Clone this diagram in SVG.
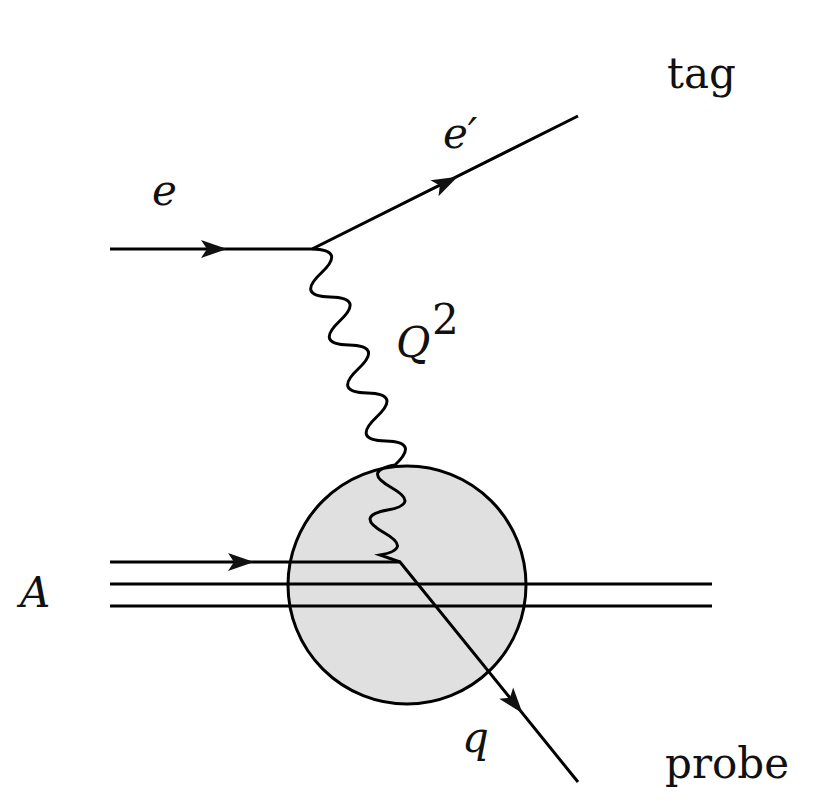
<svg xmlns="http://www.w3.org/2000/svg" width="822" height="804" viewBox="0 0 822 804">
<style>
.l{stroke:#000;stroke-width:3;fill:none}
.t{font-family:'DejaVu Serif','Liberation Serif',serif;font-size:42px;fill:#111}
.i{font-style:italic}
</style>
<defs><path id="ah" d="M12,0 L-14,-9 L-8,0 L-14,9 Z" fill="#111"/></defs>
<rect width="822" height="804" fill="#fff"/>
<g id="blob"><circle cx="407" cy="585" r="119" fill="#e0e0e0" stroke="#000" stroke-width="3"/></g>
<g id="connectors">
<path class="l" d="M110,249 H312 L578,116"/>
<path class="l" d="M312,249 Q346,249.7 321.2,273 Q296.3,296.3 330.4,297 Q364.5,297.7 339.7,321 Q315,344.3 348.9,345 Q383,345.7 358.1,369 Q333.3,392.3 367.3,393 Q401.3,393.7 376.6,417 Q351.8,440.3 385.8,441 Q419.8,441.7 395,465 Q362,471 391.25,487.5 Q420.5,504 387.5,510 Q354.5,516 383.75,532.5 Q413,549 380,555 L400,562"/>
<path class="l" d="M110,562 H400 L578,782"/>
<path class="l" d="M110,584 H712 M110,606 H712"/>
<use href="#ah" transform="translate(215,249)"/>
<use href="#ah" transform="translate(447,182) rotate(-26.6)"/>
<use href="#ah" transform="translate(242,562)"/>
<use href="#ah" transform="translate(515,704) rotate(51)"/>
</g>
<g id="labels">
<text class="t" x="667" y="88">tag</text>
<text class="t i" x="152" y="205">e</text>
<text class="t i" x="443" y="148">e′</text>
<text class="t i" x="396" y="357">Q</text><text class="t" x="432" y="334" font-size="28">2</text>
<text class="t i" x="20" y="607">A</text>
<text class="t i" x="462" y="752">q</text>
<text class="t" x="665" y="778">probe</text>
</g>
</svg>
